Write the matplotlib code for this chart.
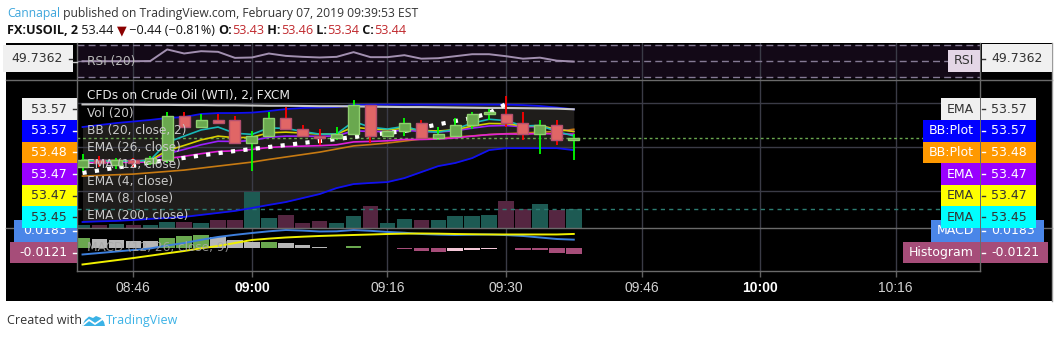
import matplotlib
matplotlib.use("Agg")
import matplotlib.pyplot as plt
from matplotlib.patches import Rectangle, Polygon
from matplotlib.lines import Line2D

W, H = 1058, 338
fig = plt.figure(figsize=(W / 100, H / 100), dpi=100)
fig.patch.set_facecolor("white")

# ---------------- data ----------------
bar_times = ["08:40", "08:42", "08:44", "08:46", "08:48", "08:50", "08:52", "08:54", "08:56", "08:58",
             "09:00", "09:02", "09:04", "09:06", "09:08", "09:10", "09:12", "09:14", "09:16", "09:18",
             "09:20", "09:22", "09:24", "09:26", "09:28", "09:30", "09:32", "09:34", "09:36", "09:38"]
opens = [53.31, 53.34, 53.32, 53.34, 53.33, 53.34, 53.54, 53.49, 53.52, 53.52,
         53.42, 53.45, 53.53, 53.48, 53.45, 53.44, 53.46, 53.59, 53.45, 53.47,
         53.51, 53.44, 53.45, 53.50, 53.55, 53.55, 53.51, 53.46, 53.50, 53.43]
highs = [53.37, 53.36, 53.35, 53.35, 53.36, 53.56, 53.56, 53.55, 53.55, 53.54,
         53.47, 53.56, 53.58, 53.50, 53.48, 53.49, 53.61, 53.59, 53.47, 53.53,
         53.52, 53.49, 53.53, 53.56, 53.57, 53.63, 53.56, 53.52, 53.52, 53.46]
lows = [53.29, 53.31, 53.30, 53.31, 53.32, 53.33, 53.49, 53.49, 53.51, 53.42,
        53.29, 53.45, 53.48, 53.45, 53.41, 53.43, 53.46, 53.42, 53.45, 53.45,
        53.44, 53.43, 53.45, 53.48, 53.52, 53.49, 53.43, 53.37, 53.41, 53.34]
closes = [53.34, 53.33, 53.34, 53.33, 53.35, 53.54, 53.49, 53.52, 53.51, 53.42,
          53.45, 53.53, 53.48, 53.45, 53.44, 53.46, 53.59, 53.45, 53.47, 53.51,
          53.44, 53.46, 53.50, 53.55, 53.55, 53.51, 53.46, 53.50, 53.43, 53.44]
volumes = [75, 75, 100, 75, 75, 150, 150, 125, 200, 200,
           900, 250, 325, 125, 175, 125, 300, 550, 125, 225,
           200, 200, 300, 300, 325, 675, 475, 600, 450, 475]

bb_upper = [53.490, 53.499, 53.508, 53.515, 53.522, 53.531, 53.535, 53.549, 53.553, 53.553,
            53.555, 53.562, 53.571, 53.576, 53.578, 53.580, 53.589, 53.591, 53.591, 53.591,
            53.591, 53.591, 53.591, 53.591, 53.591, 53.591, 53.589, 53.585, 53.578, 53.570]
bb_lower = [53.062, 53.065, 53.067, 53.071, 53.076, 53.080, 53.085, 53.094, 53.103, 53.112,
            53.125, 53.139, 53.152, 53.170, 53.188, 53.215, 53.233, 53.238, 53.242, 53.260,
            53.287, 53.314, 53.328, 53.350, 53.386, 53.395, 53.395, 53.395, 53.395, 53.386]
bb_basis = [53.269, 53.272, 53.275, 53.278, 53.284, 53.290, 53.296, 53.305, 53.314, 53.323,
            53.332, 53.344, 53.355, 53.366, 53.377, 53.391, 53.405, 53.411, 53.418, 53.427,
            53.436, 53.440, 53.445, 53.450, 53.456, 53.460, 53.463, 53.467, 53.470, 53.480]
ema200 = [53.592, 53.592, 53.591, 53.591, 53.590, 53.590, 53.589, 53.589, 53.588, 53.588,
          53.587, 53.586, 53.586, 53.585, 53.584, 53.584, 53.583, 53.582, 53.581, 53.580,
          53.580, 53.579, 53.578, 53.577, 53.576, 53.576, 53.575, 53.574, 53.573, 53.570]
ema26 = [53.330, 53.330, 53.331, 53.331, 53.333, 53.348, 53.358, 53.370, 53.380, 53.383,
         53.389, 53.398, 53.402, 53.404, 53.406, 53.410, 53.423, 53.425, 53.428, 53.434,
         53.434, 53.436, 53.441, 53.449, 53.456, 53.459, 53.458, 53.461, 53.459, 53.458]
ema12 = [53.340, 53.339, 53.339, 53.338, 53.340, 53.370, 53.389, 53.410, 53.426, 53.425,
         53.429, 53.444, 53.449, 53.449, 53.448, 53.450, 53.473, 53.470, 53.470, 53.476,
         53.470, 53.468, 53.473, 53.485, 53.495, 53.497, 53.491, 53.492, 53.482, 53.470]
ema8 = [53.340, 53.338, 53.339, 53.337, 53.340, 53.384, 53.407, 53.432, 53.449, 53.442,
        53.444, 53.464, 53.467, 53.463, 53.458, 53.458, 53.490, 53.481, 53.478, 53.485,
        53.475, 53.472, 53.478, 53.494, 53.506, 53.505, 53.495, 53.496, 53.480, 53.470]
ema4 = [53.340, 53.336, 53.338, 53.335, 53.341, 53.421, 53.449, 53.477, 53.490, 53.462,
        53.457, 53.486, 53.484, 53.470, 53.458, 53.459, 53.515, 53.489, 53.481, 53.493,
        53.472, 53.467, 53.480, 53.508, 53.525, 53.519, 53.495, 53.497, 53.470, 53.450]
dotted_line = [53.283, 53.295, 53.307, 53.318, 53.330, 53.341, 53.351, 53.362, 53.372, 53.382,
               53.391, 53.400, 53.409, 53.418, 53.427, 53.436, 53.445, 53.454, 53.463, 53.472,
               53.487, 53.502, 53.517, 53.531, 53.553, 53.594]

rsi = [50.2, 50.2, 50.2, 50.2, 50.4, 65.0, 59.9, 62.8, 62.0, 54.4,
       54.9, 59.9, 56.9, 55.7, 54.9, 55.7, 61.6, 55.3, 55.3, 57.8,
       53.4, 54.0, 56.5, 59.0, 59.0, 56.5, 53.4, 54.7, 50.9, 49.7362]
macd = [-0.0131, -0.0100, -0.0068, -0.0036, -0.0004, 0.0060, 0.0112, 0.0180, 0.0240, 0.0285,
        0.0324, 0.0360, 0.0388, 0.0375, 0.0356, 0.0360, 0.0388, 0.0370, 0.0346, 0.0330,
        0.0303, 0.0290, 0.0282, 0.0288, 0.0293, 0.0280, 0.0261, 0.0229, 0.0197, 0.0183]
signal = [-0.0343, -0.0297, -0.0252, -0.0206, -0.0156, -0.0106, -0.0057, 0.0000, 0.0049, 0.0112,
          0.0176, 0.0205, 0.0229, 0.0246, 0.0261, 0.0272, 0.0282, 0.0292, 0.0303, 0.0310,
          0.0314, 0.0310, 0.0303, 0.0298, 0.0293, 0.0293, 0.0293, 0.0293, 0.0293, 0.0304]
hist = [0.0212, 0.0191, 0.0170, 0.0159, 0.0148, 0.0212, 0.0254, 0.0276, 0.0233, 0.0170,
        0.0136, 0.0140, 0.0119, 0.0070, 0.0028, 0.0013, 0.0049, 0.0013, 0.0004, -0.0006,
        -0.0051, -0.0072, -0.0051, -0.0036, -0.0006, -0.0004, -0.0042, -0.0043, -0.0093, -0.0121]

tick_labels = ["08:46", "09:00", "09:16", "09:30", "09:46", "10:00", "10:16"]
bold_ticks = ["09:00", "10:00"]
legend_lines = ["Vol (20)", "BB (20, close, 2)", "EMA (26, close)", "EMA (12, close)",
                "EMA (4, close)", "EMA (8, close)", "EMA (200, close)"]
chart_title = "CFDs on Crude Oil (WTI), 2, FXCM"
publisher = "Cannapal"
published = " published on TradingView.com, February 07, 2019 09:39:53 EST"
symbol = "FX:USOIL, 2"
change, change_pct = -0.44, -0.81

# ---------------- helpers ----------------
def fx(x):
    return x / W

def fy(y):
    return 1 - y / H

def to_min(s):
    return int(s[:2]) * 60 + int(s[3:]) - 8 * 60

t = [to_min(s) for s in bar_times]
ticks = [to_min(s) for s in tick_labels]
XLIM = (39.35, 145.96)
PL, PR = 77, 980

def new_ax(top, bottom, ylim):
    ax = fig.add_axes([fx(PL), fy(bottom), (PR - PL) / W, (bottom - top) / H])
    ax.set_facecolor("none")
    ax.set_xlim(*XLIM)
    ax.set_ylim(*ylim)
    for s in ax.spines.values():
        s.set_visible(False)
    ax.set_xticks([])
    ax.set_yticks([])
    return ax

def fig_rect(x0, y0, x1, y1, color, z=5):
    fig.add_artist(Rectangle((fx(x0), fy(y1)), (x1 - x0) / W, (y1 - y0) / H,
                             transform=fig.transFigure, facecolor=color,
                             edgecolor="none", zorder=z))

def fig_line(x0, y0, x1, y1, color, lw=1.0, z=2, ls="-"):
    fig.add_artist(Line2D([fx(x0), fx(x1)], [fy(y0), fy(y1)], transform=fig.transFigure,
                          color=color, lw=lw, zorder=z, linestyle=ls))

renderer = fig.canvas.get_renderer()

def text_w(s, **kw):
    tt = fig.text(0, 0, s, **kw)
    w = tt.get_window_extent(renderer).width
    tt.remove()
    return w

def seq_text(x, y, parts, size, family):
    for s, color, weight in parts:
        tt = fig.text(fx(x), fy(y), s, color=color, fontsize=size, fontweight=weight,
                      family=family, va="center", ha="left")
        x += tt.get_window_extent(renderer).width

GRID = "#3a3b46"
SEP = "#6a6a6a"

# black chart area
fig_rect(6, 43, 1052, 301, "#000000", z=-1)

# ---------------- RSI pane ----------------
ax_rsi = new_ax(43, 80, (26.6, 73.1))
ax_rsi.axhspan(30, 70, color="#130917", zorder=0)
for tk in ticks:
    ax_rsi.axvline(tk, color=GRID, lw=1, zorder=0.5)
for lvl in (70, 50, 30):
    ax_rsi.axhline(lvl, color="#857a95", lw=1, ls=(0, (5, 3)), zorder=1)
ax_rsi.plot(t, rsi, color="#a28fb0", lw=1.4, zorder=2)

# ---------------- main pane ----------------
PRICE_LIM = (53.035, 53.702)
ax_back = new_ax(80, 228, PRICE_LIM)
ax_back.fill_between(t, bb_lower, bb_upper, color="#1f1d1b", lw=0, zorder=0)
for tk in ticks:
    ax_back.axvline(tk, color=GRID, lw=1, zorder=0.5)
for lvl in (53.2, 53.4, 53.6):
    ax_back.axhline(lvl, color=GRID, lw=1, zorder=0.5)

ax_vol = new_ax(80, 228, (0, 3700))
vol_cols = ["#1d5a53" if c >= o else "#552641" for o, c in zip(opens, closes)]
ax_vol.bar(t, volumes, width=1.83, color=vol_cols, lw=0)
ax_vol.axhline(volumes[-1], color="#2c7d72", lw=1, ls=(0, (3, 3)))

ax_main = new_ax(80, 228, PRICE_LIM)
ax_main.plot(t, bb_upper, color="#1010f0", lw=1.3, zorder=2)
ax_main.plot(t, bb_lower, color="#1010f0", lw=1.3, zorder=2)
ax_main.plot(t, ema200, color="#c8c8c8", lw=1.5, zorder=2)
ax_main.plot(t, bb_basis, color="#c77a12", lw=1.2, zorder=2)
ax_main.plot(t, ema26, color="#e020d8", lw=1.2, zorder=2)
ax_main.plot(t, ema12, color="#9a20ff", lw=1.2, zorder=2)
ax_main.plot(t, ema8, color="#d8d000", lw=1.2, zorder=2)
ax_main.plot(t, ema4, color="#18b8b8", lw=1.2, zorder=2)
ax_main.plot(t[:len(dotted_line)], dotted_line, color="white", lw=3,
             ls=(0, (1, 2)), dash_capstyle="butt", zorder=2.5)
ax_main.axhline(closes[-1], color="#6aa84f", lw=1, ls=(0, (2, 2)), zorder=1.5)

up = [c >= o for o, c in zip(opens, closes)]
wick_cols = ["#00ff00" if u else "#ff0000" for u in up]
ax_main.vlines(t, lows, highs, colors=wick_cols, lw=1.3, zorder=3)
bodies = [max(abs(c - o), 0.006) for o, c in zip(opens, closes)]
bottoms = [min(o, c) for o, c in zip(opens, closes)]
ax_main.bar(t, bodies, bottom=bottoms, width=1.3,
            color=["#6aa84f" if u else "#e06666" for u in up],
            edgecolor=["#8fcf6f" if u else "#b3506e" for u in up], lw=1, zorder=4)

# ---------------- MACD pane ----------------
ax_macd = new_ax(228, 271, (-0.0481, 0.0430))
for tk in ticks:
    ax_macd.axvline(tk, color=GRID, lw=1, zorder=0.5)
hcols = []
for i, h in enumerate(hist):
    prev = hist[i - 1] if i > 0 else hist[i] - 1
    if h >= 0:
        hcols.append("#6aa84f" if h > prev else "#b7b7b7")
    else:
        hcols.append("#f4c7d8" if h > prev else "#a64d79")
ax_macd.bar(t, hist, width=1.83, color=hcols, lw=0, zorder=1)
ax_macd.plot(t, macd, color="#3d7fdc", lw=1.4, zorder=2)
ax_macd.plot(t, signal, color="#f0f000", lw=1.4, zorder=2)

ax_macd.set_xticks(ticks)
ax_macd.set_xticklabels(tick_labels, family=["Liberation Sans", "DejaVu Sans"])
ax_macd.tick_params(axis="x", length=4, width=1, color="#606060", labelcolor="#d2d2d2",
                    labelsize=10, pad=3)
for lab in ax_macd.get_xticklabels():
    if lab.get_text() in bold_ticks:
        lab.set_fontweight("bold")
        lab.set_color("#ffffff")

# separators
fig_line(6, 80, 1052, 80, SEP, z=2)
fig_line(6, 228, 1052, 228, SEP, z=2)
fig_line(PL, 43, PL, 271, SEP, z=2)
fig_line(PR, 43, PR, 271, SEP, z=2)
fig_line(PL, 271, PR, 271, SEP, z=2)
fig_line(1052, 43, 1052, 301, "#9a9a9a", z=2)

# ---------------- pane legends ----------------
LF = "DejaVu Sans"
fig.text(fx(87), fy(96), chart_title, color="#e8e8e8", fontsize=8.7, family=LF, va="center", zorder=6)
for i, s in enumerate(legend_lines):
    fig.text(fx(87), fy(113.3 + 17.1 * i), s, color="#c9c9c9", fontsize=8.7, family=LF,
             va="center", zorder=6)
fig.text(fx(87), fy(61), "RSI (20)", color="#b9b9b9", fontsize=8.7, family=LF, va="center", zorder=6)
fig.text(fx(87), fy(248), "MACD (12, 26, close, 9)", color="#a8a8a8", fontsize=8.7, family=LF,
         va="center", zorder=6, alpha=0.85)

# ---------------- price scale labels ----------------
LS = 9

def price_y(ax, v):
    return H - ax.transData.transform((XLIM[0], v))[1]

def left_label(yc, txt, bg, fg, h=21.6, z=7, x_right=77):
    w = text_w(txt, fontsize=LS, family=LF)
    x0 = x_right - w - 19
    fig_rect(x0, yc - h / 2, x_right, yc + h / 2, bg, z)
    fig.text(fx(x_right - 10), fy(yc), txt, color=fg, fontsize=LS, family=LF,
             ha="right", va="center", zorder=z + 0.5)
    fig_line(x_right - 4, yc, x_right - 1, yc, fg, lw=1, z=z + 0.5)

def right_label(yc, name, txt, bg, fg, h=21.6, z=7, name_bg=None):
    nb = bg if name_bg is None else name_bg
    wn = text_w(name, fontsize=LS, family=LF)
    fig_rect(PR - wn - 12, yc - h / 2, PR, yc + h / 2, nb, z)
    fig.text(fx(PR - 6), fy(yc), name, color=fg, fontsize=LS, family=LF,
             ha="right", va="center", zorder=z + 0.5)
    wv = text_w(txt, fontsize=LS, family=LF)
    fig_rect(PR + 1, yc - h / 2, PR + 1 + wv + 19, yc + h / 2, bg, z)
    fig.text(fx(PR + 11), fy(yc), txt, color=fg, fontsize=LS, family=LF,
             ha="left", va="center", zorder=z + 0.5)
    fig_line(PR + 2, yc, PR + 5, yc, fg, lw=1, z=z + 0.5)

# RSI
y_rsi = price_y(ax_rsi, rsi[-1])
left_label(58.5, f"{rsi[-1]:.4f}", "#f0f0f0", "#333333", h=27, x_right=73)
fig_line(73, y_rsi, 77, y_rsi, "#cccccc", lw=1, z=7)
wn = text_w("RSI", fontsize=LS, family=LF)
fig_rect(PR - wn - 12, 49.5, PR, 72, "#e4d6e6", 7)
fig.text(fx(PR - 6), fy(60.5), "RSI", color="#333333", fontsize=LS, family=LF, ha="right", va="center", zorder=7.5)
fig_rect(PR + 2, 44, 1052, 72, "#f0f0f0", 7)
fig.text(fx(PR + 11), fy(58.5), f"{rsi[-1]:.4f}", color="#333333", fontsize=LS, family=LF, ha="left", va="center", zorder=7.5)
fig_line(PR + 2, 58.5, PR + 5, 58.5, "#333333", lw=1, z=7.5)

# MACD (drawn below the main-pane labels)
y_hist = price_y(ax_macd, hist[-1]) - 1.5
y_macd = y_hist - 21.7
left_label(y_macd, f"{macd[-1]:.4f}", "#4a86e8", "#ffffff", z=6)
right_label(y_macd, "MACD", f"{macd[-1]:.4f}", "#4a86e8", "#ffffff", z=6)
left_label(y_hist, f"{hist[-1]:.4f}", "#a64d79", "#ffffff", z=6)
right_label(y_hist, "Histogram", f"{hist[-1]:.4f}", "#a64d79", "#ffffff", z=6)

# main pane labels, stacked
main_labels = [("EMA", ema200[-1], "#f0f0f0", "#333333"),
               ("BB:Plot", bb_upper[-1], "#0000ff", "#ffffff"),
               ("BB:Plot", bb_basis[-1], "#ff9900", "#ffffff"),
               ("EMA", ema12[-1], "#9900ff", "#ffffff"),
               ("EMA", ema8[-1], "#ffff00", "#333333"),
               ("EMA", ema4[-1], "#00ffff", "#333333")]
y0 = price_y(ax_main, main_labels[0][1])
for i, (nm, v, bg, fg) in enumerate(main_labels):
    yc = y0 + 21.6 * i
    left_label(yc, f"{v:.2f}", bg, fg, z=8)
    right_label(yc, nm, f"{v:.2f}", bg, fg, z=8)

# ---------------- header ----------------
HF = ["Open Sans", "DejaVu Sans"]
seq_text(7, 13, [(publisher, "#3ea6dc", "normal"), (published, "#333333", "normal")], 8.7, HF)
red = "#c0282d"
seq_text(7, 30.5, [(symbol, "#131313", "bold"),
                   (f" {closes[-1]:.2f} ", "#131313", "normal"),
                   ("\u25bc", "#8b0000", "normal"),
                   (f" \u2212{abs(change):.2f} (\u2212{abs(change_pct):.2f}%) ", "#131313", "normal"),
                   ("O:", "#131313", "bold"), (f"{opens[-1]:.2f}", red, "normal"),
                   (" H:", "#131313", "bold"), (f"{highs[-1]:.2f}", red, "normal"),
                   (" L:", "#131313", "bold"), (f"{lows[-1]:.2f}", red, "normal"),
                   (" C:", "#131313", "bold"), (f"{closes[-1]:.2f}", red, "normal")], 9.1, HF)

# ---------------- footer ----------------
fig.text(fx(7), fy(320.5), "Created with", color="#333333", fontsize=9, family=HF, va="center")
logo_c = "#3bb2e6"
fig.add_artist(Polygon([(fx(82), fy(326)), (fx(85), fy(320)), (fx(89), fy(316.5)), (fx(93), fy(318)),
                        (fx(96), fy(316)), (fx(101), fy(318)), (fx(104), fy(322)), (fx(105), fy(326))],
                       closed=True, transform=fig.transFigure, facecolor=logo_c, edgecolor="none"))
fig.add_artist(Line2D([fx(83), fx(89), fx(95), fx(104)], [fy(325), fy(320), fy(324), fy(318)],
                      transform=fig.transFigure, color="white", lw=1.3))
fig.text(fx(106), fy(320.5), "TradingView", color=logo_c, fontsize=9, family=HF, va="center")

fig.savefig("out.png", dpi=100, facecolor="white")
